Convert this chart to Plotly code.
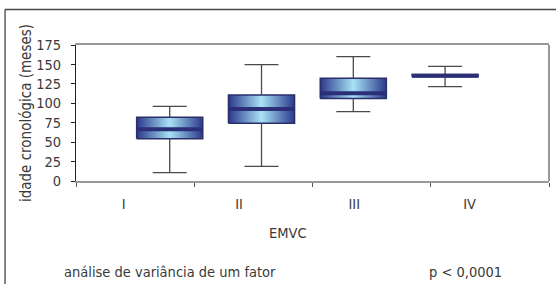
import plotly.graph_objects as go

# ---- data ----
categories = ["I", "II", "III", "IV"]
whisker_low = [10.7, 18.9, 89.2, 121.4]
q1 = [54.4, 74.2, 106.0, 134.0]
median = [66.5, 92.7, 112.8, 135.5]
q3 = [82.0, 110.7, 132.2, 137.0]
whisker_high = [96.0, 149.7, 160.0, 147.6]
y_ticks = [0, 25, 50, 75, 100, 125, 150, 175]

FONT = "DejaVu Sans Condensed, Liberation Sans Narrow, sans-serif"
TXT = "#3a3a3a"
FS = 14.5
HALF_W = 0.36
CAP_W = 0.185

fig = go.Figure()

idx = list(range(len(categories)))

# gradient boxes
for i in idx:
    xs = [i - HALF_W, i + HALF_W, i + HALF_W, i - HALF_W, i - HALF_W]
    ys = [q1[i], q1[i], q3[i], q3[i], q1[i]]
    fig.add_trace(go.Scatter(
        x=xs, y=ys, xaxis="x3", yaxis="y", mode="lines", fill="toself",
        fillgradient=dict(type="horizontal",
                          colorscale=[[0, "#2b388a"], [0.5, "#a8e2f6"], [1, "#2b388a"]]),
        line=dict(color="#2a2f6a", width=1.5), hoverinfo="skip", showlegend=False))

# whiskers and caps
wx, wy = [], []
for i in idx:
    wx += [i, i, None, i, i, None,
           i - CAP_W, i + CAP_W, None, i - CAP_W, i + CAP_W, None]
    wy += [whisker_low[i], q1[i], None, q3[i], whisker_high[i], None,
           whisker_low[i], whisker_low[i], None, whisker_high[i], whisker_high[i], None]
fig.add_trace(go.Scatter(x=wx, y=wy, xaxis="x3", yaxis="y", mode="lines",
                         line=dict(color="#4a4a4a", width=1.3),
                         hoverinfo="skip", showlegend=False))

# medians
mx, my = [], []
for i in idx:
    mx += [i - HALF_W, i + HALF_W, None]
    my += [median[i], median[i], None]
fig.add_trace(go.Scatter(x=mx, y=my, xaxis="x3", yaxis="y", mode="lines",
                         line=dict(color="#2a2f78", width=4),
                         hoverinfo="skip", showlegend=False))

# invisible traces to activate label axes
fig.add_trace(go.Scatter(x=[0, len(categories)], y=[None, None], xaxis="x", yaxis="y",
                         mode="markers", showlegend=False, hoverinfo="skip"))
fig.add_trace(go.Scatter(x=idx, y=[None] * len(idx), xaxis="x2", yaxis="y",
                         mode="markers", showlegend=False, hoverinfo="skip"))

fig.update_layout(
    width=556, height=284,
    margin=dict(l=76, r=7, t=45, b=103, autoexpand=False),
    paper_bgcolor="white", plot_bgcolor="white",
    font=dict(family=FONT, size=FS, color=TXT),
    xaxis=dict(range=[0, len(categories)], tickvals=list(range(len(categories) + 1)),
               showticklabels=False, ticks="outside", ticklen=4, tickcolor="#555",
               tickwidth=1, showline=True, linecolor="#999", linewidth=2, mirror=True,
               showgrid=False, zeroline=False, fixedrange=True, automargin=False),
    xaxis2=dict(overlaying="x", side="bottom", range=[-0.414, 3.689],
                tickvals=idx, ticktext=categories, ticks="", showline=False,
                showgrid=False, zeroline=False, ticklabelstandoff=12, automargin=False,
                tickfont=dict(size=FS, color=TXT)),
    xaxis3=dict(overlaying="x", range=[-1.021, 4.132], visible=False),
    yaxis=dict(range=[0, 175], tickvals=y_ticks, ticks="outside", ticklen=4,
               tickcolor="#222", showline=True, linecolor="#222", linewidth=1,
               showgrid=False, zeroline=False, ticklabelstandoff=7, automargin=False,
               title=dict(text="idade cronológica (meses)", standoff=0,
                          font=dict(size=15, color=TXT)),
               tickfont=dict(size=FS, color=TXT)),
    shapes=[
        dict(type="line", xref="paper", yref="paper", x0=1, x1=1, y0=0, y1=1,
             line=dict(color="#999", width=2)),
        dict(type="line", xref="paper", yref="paper", x0=-0.150, x1=-0.150,
             y0=1.261, y1=-0.82, line=dict(color="#444", width=1.3)),
        dict(type="line", xref="paper", yref="paper", x0=-0.150, x1=1.03,
             y0=1.261, y1=1.261, line=dict(color="#444", width=1.3)),
    ],
    annotations=[
        dict(text="EMVC", xref="paper", yref="paper", x=0.448, y=-0.382,
             showarrow=False, xanchor="center", yanchor="middle",
             font=dict(size=FS, color=TXT)),
        dict(text="análise de variância de um fator", xref="paper", yref="paper",
             x=-0.030, y=-0.666, showarrow=False, xanchor="left", yanchor="middle",
             font=dict(size=FS, color=TXT)),
        dict(text="p < 0,0001", xref="paper", yref="paper",
             x=0.742, y=-0.666, showarrow=False, xanchor="left", yanchor="middle",
             font=dict(size=FS, color=TXT)),
    ],
)

fig.write_html("out.html", config={"displayModeBar": False},
               post_script="document.body.style.margin='0';document.body.style.overflow='hidden';")
